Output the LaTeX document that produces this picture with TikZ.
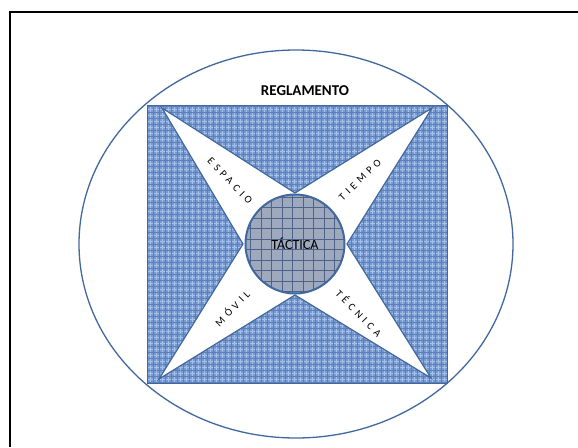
\documentclass[tikz,border=0pt]{standalone}
\usepackage{fontspec}
\setmainfont{Carlito}
\usetikzlibrary{shapes.geometric}
\definecolor{edgeblue}{HTML}{41689E}
\definecolor{sqfill}{HTML}{769AD2}
\definecolor{sqlight}{HTML}{A8C0E8}
\definecolor{sqdark}{HTML}{5A80BE}
\definecolor{cifill}{HTML}{8E9BB3}
\definecolor{cidark}{HTML}{4E628A}
\tikzset{
  armtext/.style={font=\fontsize{10.5}{11}\selectfont\addfontfeatures{LetterSpace=38}, inner sep=0pt},
  frame/.style={draw=black, line width=2pt},
}
\begin{document}
\begin{tikzpicture}[x=1pt,y=-1pt]
\useasboundingbox (0,0) rectangle (578,447);
\fill[white] (0,0) rectangle (578,447);
% frame
\coordinate (f0) at (10,12);
\coordinate (f1) at (578,12);
\coordinate (f2) at (10,447);
\draw[frame] (f1) -- (f0) -- (f2);
% outer ellipse
\node[ellipse, draw=edgeblue, line width=1.3pt, minimum width=434pt, minimum height=388pt, inner sep=0pt] (ell) at (296,244) {};
% square
\node[rectangle, draw=edgeblue, line width=1pt, fill=sqfill, minimum width=300pt, minimum height=278pt, inner sep=0pt,
  path picture={
    \draw[sqlight, line width=0.7pt, step=3pt] (path picture bounding box.south west) grid (path picture bounding box.north east);
    \draw[sqdark, line width=0.6pt, step=6pt] (path picture bounding box.south west) grid (path picture bounding box.north east);
  }] (sq) at (297,244) {};
% star
\coordinate (tl) at (162,108);
\coordinate (tr) at (432,108);
\coordinate (br) at (431,378);
\coordinate (bl) at (159,379);
\coordinate (n) at (295,193);
\coordinate (e) at (347,244);
\coordinate (s) at (295,295);
\coordinate (w) at (243,244);
\draw[edgeblue, line width=1.2pt, fill=white, line join=miter] (tl) -- (n) -- (tr) -- (e) -- (br) -- (s) -- (bl) -- (w) -- cycle;
% centre circle
\node[circle, draw=edgeblue, line width=2pt, fill=cifill, minimum size=99pt, inner sep=0pt,
  font=\fontsize{14}{15}\selectfont,
  path picture={
    \fill[white, opacity=0.15] (path picture bounding box.south west) rectangle (path picture bounding box.north east);
    \draw[cidark, line width=0.7pt, step=10.5pt] (path picture bounding box.south west) grid (path picture bounding box.north east);
  }] (tac) at (295,244) {T\'ACTICA};
% labels
\node[font=\bfseries\fontsize{15}{16}\selectfont] (reg) at (305,91) {REGLAMENTO};
\node[armtext, rotate=-46] (esp) at (230,181) {ESPACIO};
\node[armtext, rotate=44] (tie) at (360,180) {TIEMPO};
\node[armtext, rotate=46] (mov) at (232,308) {MÓVIL};
\node[armtext, rotate=-46] (tec) at (359,313) {TÉCNICA};
\end{tikzpicture}
\end{document}
